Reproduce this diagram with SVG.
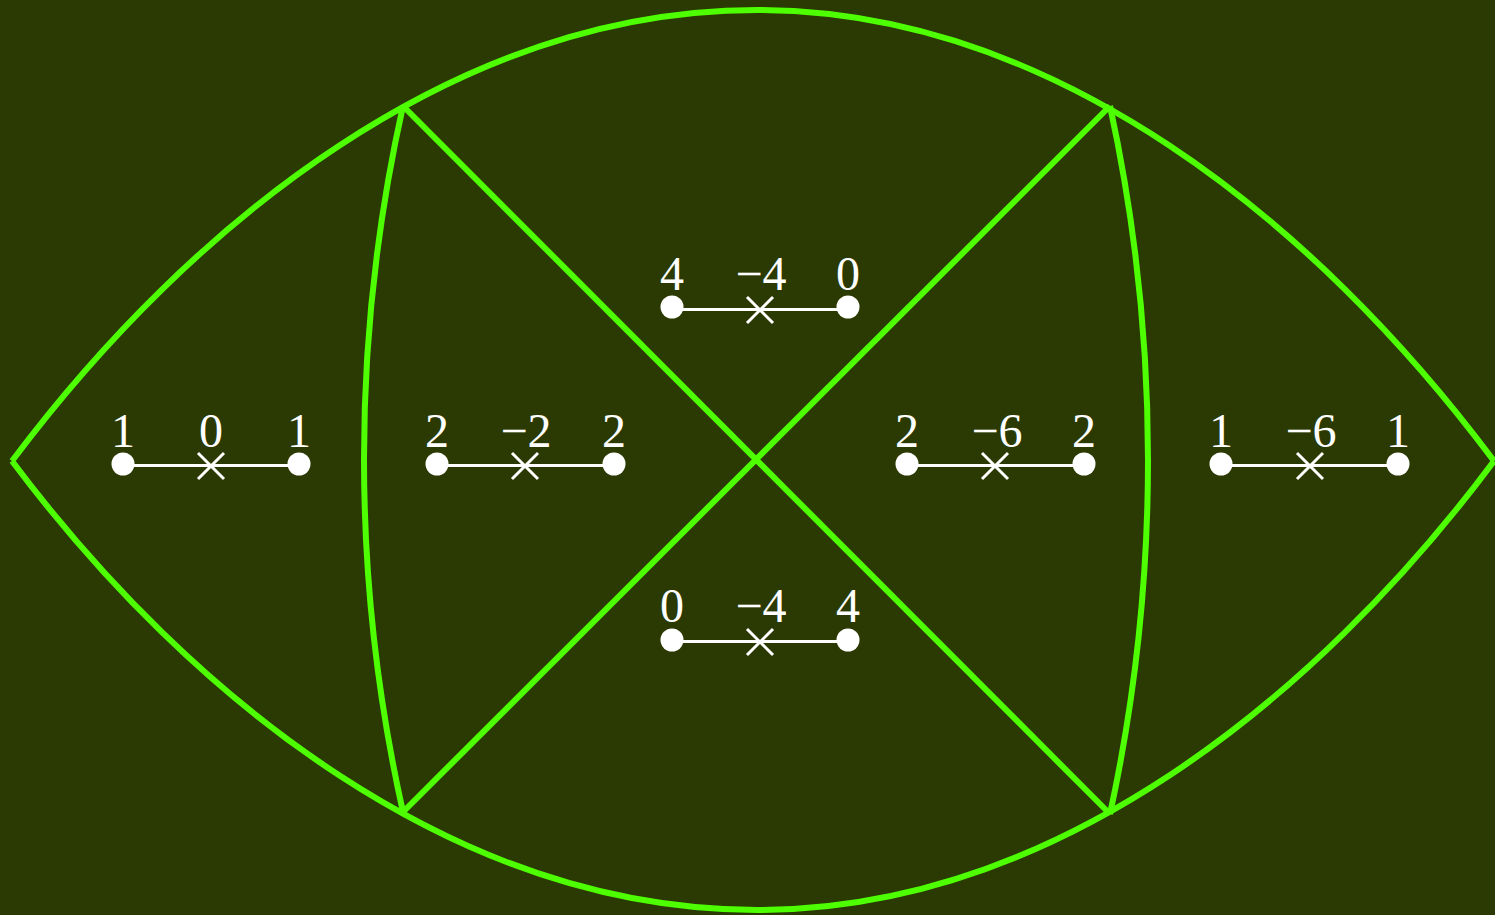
<svg xmlns="http://www.w3.org/2000/svg" width="1495" height="915" viewBox="0 0 1495 915">
<style>
.g{fill:none;stroke:#4dff00;stroke-width:6;stroke-linejoin:round}
.seg{stroke:#fff;stroke-width:3;fill:none}
.dot{fill:#fff}
.lbl{font-family:"Liberation Serif","Times New Roman",serif;font-size:48px;fill:#fff;text-anchor:middle}
</style>
<defs>
<g id="cross"><path d="M-13,-13L13,13M-13,13L13,-13" stroke="#fff" stroke-width="3" fill="none"/></g>
</defs>
<rect width="1495" height="915" fill="#2b3a02"/>
<g id="connectors">
<path class="g" d="M12,461 C192,221 457,10 757,10 C1053,10 1315,221 1494,461"/>
<path class="g" d="M12,461 C192,701 457,910 757,910 C1053,910 1315,701 1494,461"/>
<path class="g" d="M403,106 A1617,1617 0 0 0 403,812"/>
<path class="g" d="M1110,106 A1668,1668 0 0 1 1110,814"/>
<path class="g" d="M403,106 L1110,814"/>
<path class="g" d="M1110,106 L403,812"/>
</g>
<g id="n1">
<line class="seg" x1="123" y1="465.5" x2="299" y2="465.5"/>
<circle class="dot" cx="123" cy="464" r="11.5"/><circle class="dot" cx="299" cy="464" r="11.5"/>
<use href="#cross" x="211" y="466"/>
<text class="lbl" x="123" y="447">1</text><text class="lbl" x="211" y="447">0</text><text class="lbl" x="299" y="447">1</text>
</g>
<g id="n2">
<line class="seg" x1="437" y1="465.5" x2="614" y2="465.5"/>
<circle class="dot" cx="437" cy="464" r="11.5"/><circle class="dot" cx="614" cy="464" r="11.5"/>
<use href="#cross" x="525" y="466"/>
<text class="lbl" x="526" y="447">−2</text><text class="lbl" x="437" y="447">2</text><text class="lbl" x="614" y="447">2</text>
</g>
<g id="n3">
<line class="seg" x1="672" y1="309.5" x2="848" y2="309.5"/>
<circle class="dot" cx="672" cy="307" r="11.5"/><circle class="dot" cx="848" cy="307" r="11.5"/>
<use href="#cross" x="760" y="310"/>
<text class="lbl" x="672" y="290">4</text><text class="lbl" x="761" y="290">−4</text><text class="lbl" x="848" y="290">0</text>
</g>
<g id="n4">
<line class="seg" x1="672" y1="641.5" x2="848" y2="641.5"/>
<circle class="dot" cx="672" cy="640" r="11.5"/><circle class="dot" cx="848" cy="640" r="11.5"/>
<use href="#cross" x="760" y="642"/>
<text class="lbl" x="672" y="622">0</text><text class="lbl" x="761" y="622">−4</text><text class="lbl" x="848" y="622">4</text>
</g>
<g id="n5">
<line class="seg" x1="907" y1="465.5" x2="1084" y2="465.5"/>
<circle class="dot" cx="907" cy="464" r="11.5"/><circle class="dot" cx="1084" cy="464" r="11.5"/>
<use href="#cross" x="995" y="466"/>
<text class="lbl" x="907" y="447">2</text><text class="lbl" x="997" y="447">−6</text><text class="lbl" x="1084" y="447">2</text>
</g>
<g id="n6">
<line class="seg" x1="1221" y1="465.5" x2="1398" y2="465.5"/>
<circle class="dot" cx="1221" cy="464" r="11.5"/><circle class="dot" cx="1398" cy="464" r="11.5"/>
<use href="#cross" x="1310" y="466"/>
<text class="lbl" x="1221" y="447">1</text><text class="lbl" x="1311" y="447">−6</text><text class="lbl" x="1398" y="447">1</text>
</g>
</svg>
